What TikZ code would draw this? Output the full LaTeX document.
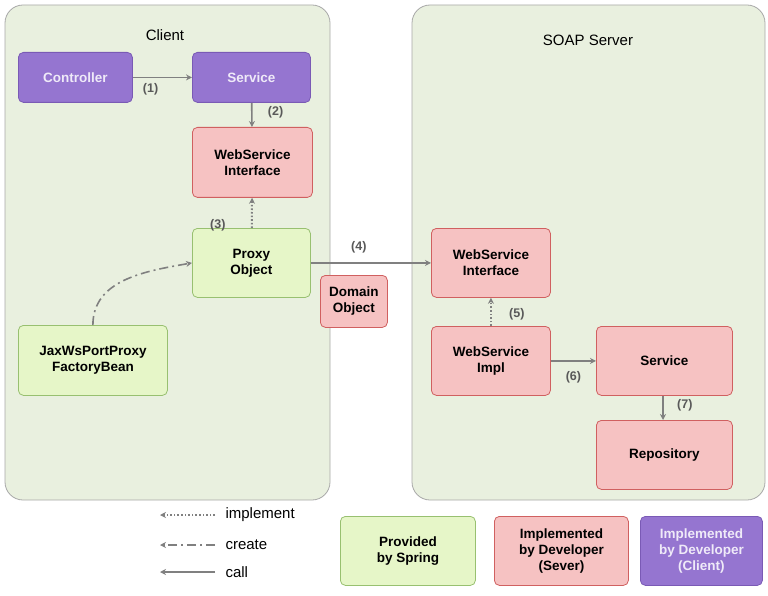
\documentclass[tikz,border=0pt]{standalone}
\usepackage{fontspec}
\setmainfont{Liberation Sans}
\usetikzlibrary{positioning,arrows.meta}
\definecolor{panelfill}{HTML}{E9F0DF}
\definecolor{panelline}{HTML}{A8A8A8}
\definecolor{purplefill}{HTML}{9575D0}
\definecolor{purpleline}{HTML}{7A5AB5}
\definecolor{pinkfill}{HTML}{F6C2C2}
\definecolor{pinkline}{HTML}{D06060}
\definecolor{greenfill}{HTML}{E6F6C8}
\definecolor{greenline}{HTML}{98C070}
\definecolor{arrowgray}{HTML}{808080}
\tikzset{
  panel/.style={draw=panelline, fill=panelfill, rounded corners=18pt, line width=0.8pt},
  box/.style={rounded corners=5pt, line width=0.8pt, align=center, font=\bfseries\fontsize{13.5}{16}\selectfont, anchor=north west},
  client/.style={box, draw=purpleline, fill=purplefill, text=white!85!purplefill},
  server/.style={box, draw=pinkline, fill=pinkfill},
  spring/.style={box, draw=greenline, fill=greenfill},
  call/.style={draw=arrowgray, line width=1.6pt, -{Stealth[length=6pt,width=6pt]}},
  impl/.style={call, dotted, line width=2pt},
  create/.style={call, dash pattern=on 9pt off 4pt on 2pt off 4pt},
  stepnum/.style={font=\bfseries\fontsize{12.5}{14}\selectfont, text=black!65}
}
\begin{document}
\begin{tikzpicture}[x=1pt,y=-1pt]
\useasboundingbox (0,0) rectangle (768,596);
% panels
\draw[panel] (5,5) rectangle (330,500);
\draw[panel] (412,5) rectangle (765,500);
\node[font=\fontsize{15}{18}\selectfont] (clienttitle) at (165,35) {Client};
\node[font=\fontsize{15}{18}\selectfont] (servertitle) at (588,40) {SOAP Server};
% client side
\node[client, minimum width=114pt, minimum height=50pt] (controller) at (18,52) {Controller};
\node[client, minimum width=118pt, minimum height=50pt] (service) at (192,52) {Service};
\node[server, minimum width=120pt, minimum height=70pt] (wsif) at (192,127) {WebService\\Interface};
\node[spring, minimum width=118pt, minimum height=69pt] (proxy) at (192,228) {Proxy\\Object};
\node[spring, minimum width=149pt, minimum height=70pt] (factory) at (18,325) {JaxWsPortProxy\\FactoryBean};
\node[server, minimum width=67pt, minimum height=52pt] (domain) at (320,275) {Domain\\Object};
% server side
\node[server, minimum width=119pt, minimum height=69pt] (swsif) at (431,228) {WebService\\Interface};
\node[server, minimum width=119pt, minimum height=69pt] (wsimpl) at (431,326) {WebService\\Impl};
\node[server, minimum width=136pt, minimum height=69pt] (sservice) at (596,326) {Service};
\node[server, minimum width=136pt, minimum height=69pt] (repo) at (596,420) {Repository};
% legend
\node[spring, minimum width=135pt, minimum height=69pt] (lspring) at (340,516) {Provided\\by Spring};
\node[server, minimum width=134pt, minimum height=69pt] (lserver) at (494,516) {Implemented\\by Developer\\(Sever)};
\node[client, minimum width=122pt, minimum height=69pt] (lclient) at (640,516) {Implemented\\by Developer\\(Client)};
% connectors
\draw[call] (controller) -- (service) node[stepnum, pos=0.3, below=2pt] {(1)};
\draw[call] (service) -- (wsif) node[stepnum, pos=0.4, right=12pt] {(2)};
\draw[impl] (proxy) -- (wsif) node[stepnum, pos=0.1, left=22pt] {(3)};
\draw[create] (factory.north) to[out=90, in=190] (proxy.west);
\draw[call] (proxy.east) -- (swsif.west |- proxy.east) node[stepnum, pos=0.4, above=6pt] {(4)};
\draw[impl] (wsimpl) -- (swsif) node[stepnum, pos=0.4, right=14pt] {(5)};
\draw[call] (wsimpl) -- (sservice) node[stepnum, pos=0.5, below=6pt] {(6)};
\draw[call] (sservice.south -| 663,0) -- (repo.north -| 663,0) node[stepnum, pos=0.4, right=10pt] {(7)};
% legend arrows
\coordinate (limplA) at (215,515); \coordinate (limplB) at (160,515);
\coordinate (lcreateA) at (215,545); \coordinate (lcreateB) at (160,545);
\coordinate (lcallA) at (215,572); \coordinate (lcallB) at (160,572);
\draw[impl] (limplA) -- (limplB);
\draw[create] (lcreateA) -- (lcreateB);
\draw[call] (lcallA) -- (lcallB);
\node[anchor=west, font=\fontsize{15}{18}\selectfont] (limpl) at (222,515) {implement};
\node[anchor=west, font=\fontsize{15}{18}\selectfont] (lcreate) at (222,545) {create};
\node[anchor=west, font=\fontsize{15}{18}\selectfont] (lcall) at (222,572) {call};
\end{tikzpicture}
\end{document}
